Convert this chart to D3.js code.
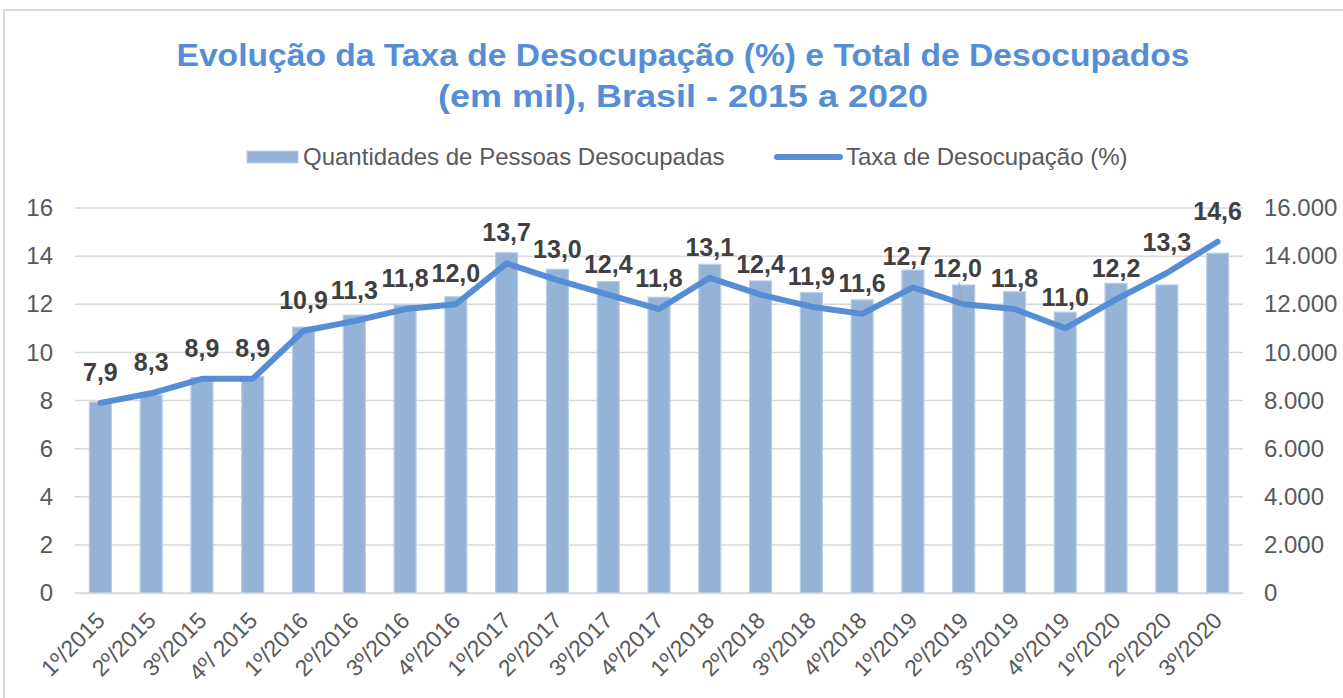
<!DOCTYPE html>
<html>
<head>
<meta charset="utf-8">
<script src="https://cdn.jsdelivr.net/npm/d3@7"></script>
<style>
  html, body { margin: 0; padding: 0; background: #ffffff; }
  svg { display: block; font-family: "Liberation Sans", Arial, sans-serif; }
</style>
</head>
<body>
<svg id="chart" width="1343" height="698"></svg>
<script>
// ---- data ----
const categories = ["1º/2015","2º/2015","3º/2015","4º/ 2015","1º/2016","2º/2016","3º/2016","4º/2016",
  "1º/2017","2º/2017","3º/2017","4º/2017","1º/2018","2º/2018","3º/2018","4º/2018",
  "1º/2019","2º/2019","3º/2019","4º/2019","1º/2020","2º/2020","3º/2020"];
const desocupados = [7934, 8230, 8950, 8990, 11050, 11550, 11970, 12310,
  14140, 13450, 12940, 12290, 13660, 12970, 12480, 12180,
  13420, 12800, 12520, 11670, 12870, 12800, 14120];
const taxa = [7.9, 8.3, 8.9, 8.9, 10.9, 11.3, 11.8, 12.0,
  13.7, 13.0, 12.4, 11.8, 13.1, 12.4, 11.9, 11.6,
  12.7, 12.0, 11.8, 11.0, 12.2, 13.3, 14.6];
const leftTicks = [0, 2, 4, 6, 8, 10, 12, 14, 16];
const rightTicks = [0, 2000, 4000, 6000, 8000, 10000, 12000, 14000, 16000];
const titleLines = ["Evolução da Taxa de Desocupação (%) e Total de Desocupados", "(em mil), Brasil - 2015 a 2020"];
const legendLabels = ["Quantidades de Pessoas Desocupadas", "Taxa de Desocupação (%)"];

// ---- setup ----
const svg = d3.select("#chart");
const barColor = "#95b3d7", barEdge = "#b9cde5", lineColor = "#558ed5", gridColor = "#d9d9d9";
const pLeft = 75, pRight = 1243, pTop = 208, pBottom = 593;

const x = d3.scaleBand().domain(categories).range([pLeft, pRight]).paddingInner(0.567).paddingOuter(0.2835);
const yL = d3.scaleLinear().domain([0, 16]).range([pBottom, pTop]);
const yR = d3.scaleLinear().domain([0, 16000]).range([pBottom, pTop]);
const ptFmt = d3.formatLocale({decimal: ",", thousands: ".", grouping: [3], currency: ["", ""]});
const fmtR = ptFmt.format(",.0f");
const fmtL = ptFmt.format(",.1f");

// outer border
svg.append("rect").attr("x", 4).attr("y", 10).attr("width", 1360).attr("height", 720)
  .attr("fill", "none").attr("stroke", gridColor).attr("stroke-width", 2);

// title
const titleWidths = [1013, 490];
svg.append("g").selectAll("text").data(titleLines).join("text")
  .attr("x", 683).attr("y", (d, i) => [66, 107][i])
  .attr("text-anchor", "middle")
  .attr("font-size", 31).attr("font-weight", "bold").attr("fill", lineColor)
  .attr("textLength", (d, i) => titleWidths[i]).attr("lengthAdjust", "spacingAndGlyphs")
  .text(d => d);

// legend
const lg = svg.append("g");
lg.append("rect").attr("x", 247).attr("y", 151).attr("width", 51).attr("height", 12)
  .attr("fill", barColor).attr("stroke", barEdge).attr("stroke-width", 1);
lg.append("text").attr("x", 303).attr("y", 165).attr("font-size", 24).attr("fill", "#595959").text(legendLabels[0]);
lg.append("line").attr("x1", 777).attr("x2", 840).attr("y1", 157).attr("y2", 157)
  .attr("stroke", lineColor).attr("stroke-width", 6).attr("stroke-linecap", "round");
lg.append("text").attr("x", 846).attr("y", 165).attr("font-size", 24).attr("fill", "#595959").text(legendLabels[1]);

// gridlines
svg.append("g").selectAll("line").data(leftTicks).join("line")
  .attr("x1", pLeft).attr("x2", pRight)
  .attr("y1", d => yL(d)).attr("y2", d => yL(d))
  .attr("stroke", gridColor).attr("stroke-width", 1.5);

// left axis
const axL = svg.append("g").attr("transform", `translate(${pLeft},0)`)
  .call(d3.axisLeft(yL).tickValues(leftTicks).tickSize(0).tickPadding(22).tickFormat(d3.format("d")));
axL.select(".domain").remove();
axL.selectAll("text").attr("font-size", 24).attr("fill", "#595959").attr("font-family", "Liberation Sans, Arial, sans-serif");

// right axis
const axR = svg.append("g").attr("transform", `translate(${pRight},0)`)
  .call(d3.axisRight(yR).tickValues(rightTicks).tickSize(0).tickPadding(21).tickFormat(fmtR));
axR.select(".domain").remove();
axR.selectAll("text").attr("font-size", 24).attr("fill", "#595959").attr("font-family", "Liberation Sans, Arial, sans-serif");

// bars
svg.append("g").selectAll("rect").data(categories).join("rect")
  .attr("x", d => x(d)).attr("width", x.bandwidth())
  .attr("y", (d, i) => yR(desocupados[i]))
  .attr("height", (d, i) => yR(0) - yR(desocupados[i]))
  .attr("fill", barColor).attr("stroke", barEdge).attr("stroke-width", 1.2);

// x axis
const axB = svg.append("g").attr("transform", `translate(0,${pBottom})`)
  .call(d3.axisBottom(x).tickSize(0).tickPadding(0));
axB.select(".domain").attr("stroke", gridColor).attr("stroke-width", 1.5);
axB.selectAll("text")
  .attr("font-size", 23).attr("fill", "#595959").attr("font-family", "Liberation Sans, Arial, sans-serif")
  .attr("text-anchor", "end")
  .attr("x", 0).attr("y", 0).attr("dy", 0).attr("dx", 0)
  .attr("transform", "translate(6,29) rotate(-45)");

// line
const cx = d => x(d) + x.bandwidth() / 2;
const line = d3.line().x((d, i) => cx(categories[i])).y(d => yL(d));
svg.append("path").datum(taxa).attr("d", line)
  .attr("fill", "none").attr("stroke", lineColor).attr("stroke-width", 6)
  .attr("stroke-linejoin", "round").attr("stroke-linecap", "round");

// data labels
const adjust = {16: [-6, 0], 17: [-6, -5]};
const labels = svg.append("g");
labels.selectAll("line").data([17]).join("line")
  .attr("x1", i => cx(categories[i]) - 5).attr("y1", i => yL(taxa[i]) - 22)
  .attr("x2", i => cx(categories[i]) - 1).attr("y2", i => yL(taxa[i]) - 2)
  .attr("stroke", "#a6a6a6").attr("stroke-width", 1);
labels.selectAll("text").data(taxa).join("text")
  .attr("x", (d, i) => cx(categories[i]) + (adjust[i] ? adjust[i][0] : 0))
  .attr("y", (d, i) => yL(d) - 22 + (adjust[i] ? adjust[i][1] : 0))
  .attr("text-anchor", "middle").attr("font-size", 25).attr("font-weight", "bold").attr("fill", "#404040")
  .text(d => fmtL(d));
</script>
</body>
</html>
